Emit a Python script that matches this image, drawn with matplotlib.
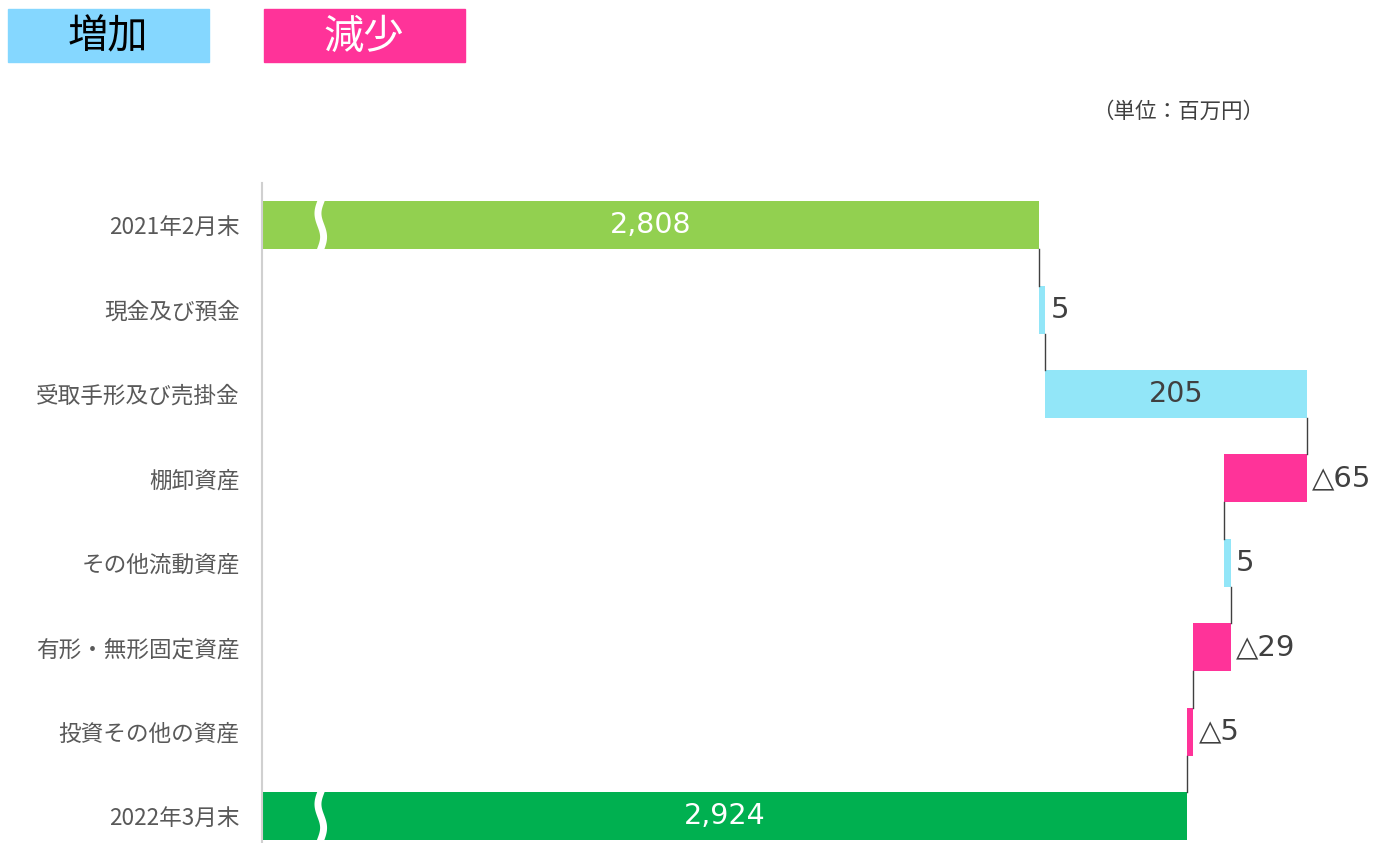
import numpy as np
import matplotlib
matplotlib.use("Agg")
import matplotlib.pyplot as plt

plt.rcParams['font.family'] = ['Noto Sans CJK JP', 'DejaVu Sans']

categories = ["2021年2月末", "現金及び預金", "受取手形及び売掛金", "棚卸資産",
              "その他流動資産", "有形・無形固定資産", "投資その他の資産", "2022年3月末"]
start_total = 2808
changes = [5, 205, -65, 5, -29, -5]
end_total = 2924
x_from = 2200  # axis is broken, starts here

green_start = '#92D050'
green_end = '#00B050'
up_col = '#92E6F8'
down_col = '#FF3399'
txt_col = '#404040'

fig = plt.figure(figsize=(13.8, 8.43), dpi=100)
ax = fig.add_axes([262/1380, 0, 1 - 262/1380, (843-183)/843])

n = len(categories)
ypos = np.arange(n)
h = 0.57

# running totals
run = np.concatenate([[start_total], start_total + np.cumsum(changes)])

# first and last total bars
ax.barh(0, start_total - x_from, left=x_from, height=h, color=green_start)
ax.barh(n-1, end_total - x_from, left=x_from, height=h, color=green_end)
ax.text((x_from + start_total)/2, 0, f"{start_total:,}", ha='center', va='center',
        color='white', fontsize=20.5, family=['DejaVu Sans'])
ax.text((x_from + end_total)/2, n-1, f"{end_total:,}", ha='center', va='center',
        color='white', fontsize=20.5, family=['DejaVu Sans'])

for i, c in enumerate(changes):
    y = i + 1
    lo = min(run[i], run[i+1])
    col = up_col if c > 0 else down_col
    ax.barh(y, abs(c), left=lo, height=h, color=col)
    lab = str(c) if c > 0 else "△" + str(-c)
    if abs(c) > 100:
        ax.text(lo + abs(c)/2, y, lab, ha='center', va='center', color=txt_col,
                fontsize=20.5, family=['DejaVu Sans'])
    else:
        ax.text(max(run[i], run[i+1]) + 4, y, lab, ha='left', va='center',
                color=txt_col, fontsize=21, family=['DejaVu Sans', 'Noto Sans CJK JP'])

# connector lines
for i in range(n-1):
    ax.plot([run[i], run[i]], [i + h/2, i + 1 - h/2], color='#404040', lw=1)

# break marks on the total bars
t = np.linspace(-0.42, 0.42, 60)
for y in [0, n-1]:
    xs = 2246 + 2.2*np.sin(t/0.42*np.pi*1.5)
    ax.plot(xs, y + t, color='white', lw=5, solid_capstyle='butt')

ax.set_xlim(x_from, 3075)
ax.set_ylim(7.32, -0.5)
ax.set_yticks(ypos)
ax.set_yticklabels(categories, fontsize=16.3, color='#595959')
ax.tick_params(axis='y', length=0, pad=16)
ax.set_xticks([])
for s in ['top', 'right', 'bottom']:
    ax.spines[s].set_visible(False)
ax.spines['left'].set_color('#D0D0D0')
ax.spines['left'].set_linewidth(1.5)

# legend boxes
fig.patches.append(plt.Rectangle((8/1380, 1-62/843), 201/1380, 53/843,
                                 transform=fig.transFigure, color='#85D7FF'))
fig.patches.append(plt.Rectangle((264/1380, 1-62/843), 201/1380, 53/843,
                                 transform=fig.transFigure, color=down_col))
fig.text(108/1380, 1-37/843, "増加", ha='center', va='center', fontsize=29, color='black')
fig.text(364/1380, 1-37/843, "減少", ha='center', va='center', fontsize=29, color='white')
fig.text(1178/1380, 1-112/843, "（単位：百万円）", ha='center', va='center',
         fontsize=15.5, color=txt_col)

fig.savefig("out.png", dpi=100)
